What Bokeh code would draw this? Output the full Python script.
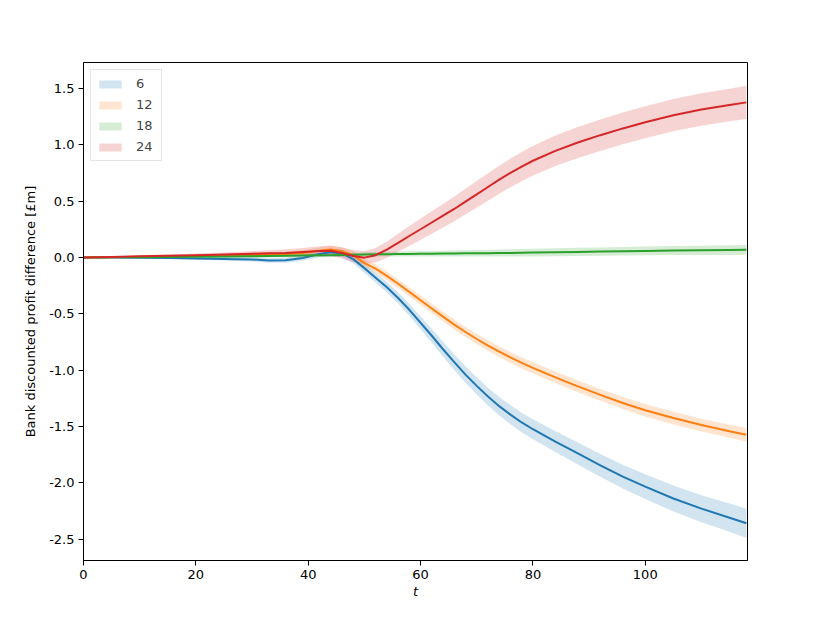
from bokeh.plotting import figure
from bokeh.models import Range1d, FixedTicker, Legend
from bokeh.embed import file_html
from bokeh.resources import INLINE

# ---- data ----
t = [0, 5, 10, 15, 20, 25, 30,
     33, 36, 39, 42, 44, 46, 48,
     50, 52, 54, 56, 58, 60, 62,
     64, 66, 68, 70, 72, 74, 76,
     78, 80, 84, 88, 92, 96, 100,
     105, 110, 115, 118]

s6 = [0, 0, -0.003, -0.006, -0.01, -0.013, -0.018,
      -0.027, -0.025, -0.005, 0.03, 0.045, 0.035, -0.015,
      -0.095, -0.18, -0.265, -0.36, -0.465, -0.58, -0.695,
      -0.815, -0.93, -1.04, -1.14, -1.235, -1.32, -1.395,
      -1.465, -1.525, -1.635, -1.74, -1.845, -1.945, -2.035,
      -2.14, -2.23, -2.31, -2.36]
s12 = [0, 0.002, 0.005, 0.01, 0.015, 0.018, 0.022,
       0.025, 0.03, 0.04, 0.06, 0.07, 0.055, 0.02,
       -0.05, -0.10, -0.164, -0.234, -0.306, -0.38, -0.454,
       -0.526, -0.596, -0.662, -0.724, -0.782, -0.836, -0.888,
       -0.936, -0.98, -1.064, -1.144, -1.22, -1.292, -1.356,
       -1.426, -1.488, -1.543, -1.573]
s18 = [0, 0.001, 0.002, 0.004, 0.006, 0.008, 0.01,
       0.012, 0.014, 0.016, 0.019, 0.02, 0.022, 0.024,
       0.026, 0.028, 0.029, 0.03, 0.031, 0.032, 0.033,
       0.034, 0.035, 0.036, 0.037, 0.038, 0.039, 0.04,
       0.041, 0.043, 0.046, 0.049, 0.052, 0.055, 0.058,
       0.061, 0.063, 0.065, 0.067]
s24 = [0, 0.003, 0.01, 0.015, 0.02, 0.025, 0.033,
       0.036, 0.04, 0.048, 0.058, 0.06, 0.04, 0.012,
       -0.002, 0.02, 0.07, 0.13, 0.19, 0.25, 0.31,
       0.37, 0.43, 0.495, 0.56, 0.625, 0.69, 0.75,
       0.806, 0.858, 0.946, 1.02, 1.085, 1.145, 1.20,
       1.262, 1.313, 1.353, 1.376]

# half-widths of the shaded bands
e6 = [0, 0.001, 0.003, 0.006, 0.01, 0.014, 0.018,
      0.02, 0.022, 0.025, 0.028, 0.031, 0.034, 0.037,
      0.04, 0.043, 0.046, 0.05, 0.054, 0.058, 0.062,
      0.066, 0.07, 0.073, 0.076, 0.079, 0.082, 0.085,
      0.087, 0.089, 0.093, 0.097, 0.101, 0.105, 0.11,
      0.115, 0.12, 0.125, 0.13]
e12 = [0, 0.002, 0.005, 0.008, 0.012, 0.015, 0.018,
       0.02, 0.022, 0.025, 0.028, 0.031, 0.034, 0.035,
       0.036, 0.037, 0.038, 0.039, 0.04, 0.041, 0.042,
       0.043, 0.044, 0.045, 0.046, 0.047, 0.048, 0.049,
       0.05, 0.05, 0.051, 0.052, 0.053, 0.054, 0.055,
       0.056, 0.057, 0.058, 0.06]
e18 = [0, 0.001, 0.003, 0.005, 0.007, 0.009, 0.011,
       0.012, 0.013, 0.014, 0.015, 0.016, 0.017, 0.018,
       0.019, 0.02, 0.021, 0.022, 0.023, 0.024, 0.025,
       0.026, 0.027, 0.028, 0.029, 0.03, 0.031, 0.032,
       0.033, 0.034, 0.035, 0.036, 0.037, 0.038, 0.039,
       0.04, 0.041, 0.043, 0.044]
e24 = [0, 0.003, 0.006, 0.01, 0.014, 0.018, 0.024,
       0.028, 0.032, 0.036, 0.042, 0.046, 0.05, 0.054,
       0.058, 0.064, 0.072, 0.08, 0.088, 0.095, 0.1,
       0.105, 0.11, 0.114, 0.118, 0.121, 0.124, 0.127,
       0.13, 0.132, 0.135, 0.138, 0.14, 0.141, 0.142,
       0.143, 0.144, 0.145, 0.148]

labels = ["6", "12", "18", "24"]
colors = ["#1f77b4", "#ff7f0e", "#2ca02c", "#d62728"]

x_ticks = [0, 20, 40, 60, 80, 100]
y_ticks = [-2.5, -2.0, -1.5, -1.0, -0.5, 0.0, 0.5, 1.0, 1.5]
y_tick_labels = ["-2.5", "-2.0", "-1.5", "-1.0", "-0.5", "0.0", "0.5", "1.0", "1.5"]

FONT = "DejaVu Sans"

p = figure(frame_width=664, frame_height=498, output_backend="svg", toolbar_location=None,
           x_range=Range1d(0, 118.2), y_range=Range1d(-2.69, 1.73),
           min_border_left=83, min_border_right=83, min_border_top=62, min_border_bottom=63)
p.background_fill_color = "white"
p.border_fill_color = "white"
p.outline_line_color = "black"
p.outline_line_width = 1
p.grid.visible = False

series = [s6, s12, s18, s24]
errs = [e6, e12, e18, e24]
bands = []
for lab, col, s, e in zip(labels, colors, series, errs):
    lo = [a - b for a, b in zip(s, e)]
    hi = [a + b for a, b in zip(s, e)]
    r = p.varea(x=t, y1=lo, y2=hi, fill_color=col, fill_alpha=0.2)
    bands.append((lab, r))
for col, s in zip(colors, series):
    p.line(x=t, y=s, line_color=col, line_width=2, line_join="round")

legend = Legend(items=[(lab, [r]) for lab, r in bands], location="top_left")
legend.label_text_font = FONT
legend.label_text_font_size = "13px"
legend.border_line_color = "#cccccc"
legend.border_line_width = 1
legend.background_fill_alpha = 0.8
legend.glyph_width = 28
legend.glyph_height = 10
legend.label_height = 17
legend.spacing = 4
legend.label_standoff = 12
legend.padding = 5
legend.margin = 7
p.add_layout(legend)

for ax in (p.xaxis, p.yaxis):
    ax.major_label_text_font = FONT
    ax.major_label_text_font_size = "13px"
    ax.major_label_text_color = "black"
    ax.axis_label_text_font = FONT
    ax.axis_label_text_font_size = "13px"
    ax.axis_label_text_color = "black"
    ax.minor_tick_line_color = None
    ax.major_tick_in = 0
    ax.major_tick_out = 5
    ax.axis_line_color = "black"
    ax.major_tick_line_color = "black"
    ax.major_label_standoff = 4

p.xaxis.ticker = FixedTicker(ticks=x_ticks)
p.yaxis.ticker = FixedTicker(ticks=y_ticks)
p.yaxis.major_label_overrides = {v: s for v, s in zip(y_ticks, y_tick_labels)}
p.xaxis.axis_label = "t"
p.xaxis.axis_label_text_font_style = "italic"
p.xaxis.axis_label_standoff = 2
p.yaxis.axis_label = "Bank discounted profit difference [£m]"
p.yaxis.axis_label_text_font_style = "normal"
p.yaxis.axis_label_standoff = 8

open("out.html", "w").write(file_html(p, INLINE))
